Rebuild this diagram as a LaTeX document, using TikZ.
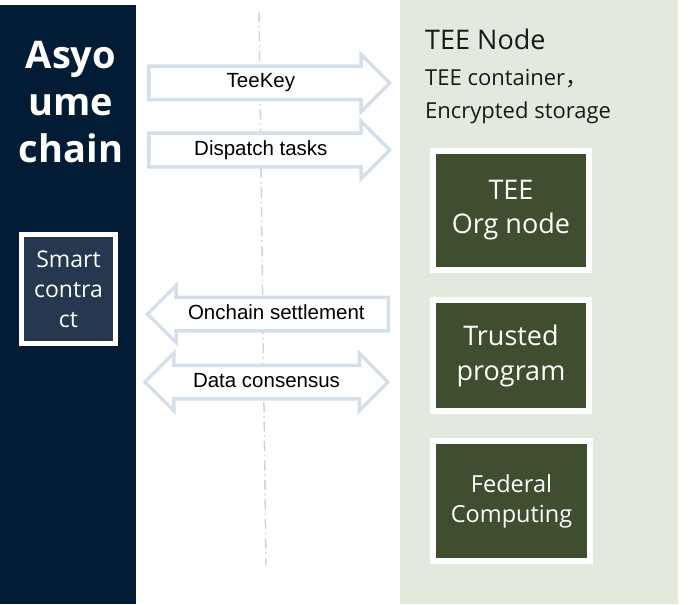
\documentclass[tikz,border=0pt]{standalone}
\usepackage{fontspec}
\setmainfont{Open Sans}
\newfontfamily\arialfont{Liberation Sans}
\newfontfamily\cjkfont{Noto Sans CJK SC}
\usetikzlibrary{shapes.arrows, shadows}
\definecolor{chainblue}{RGB}{2,28,53}
\definecolor{teebg}{RGB}{227,233,220}
\definecolor{teegreen}{RGB}{63,78,46}
\definecolor{contractblue}{RGB}{37,56,80}
\definecolor{flowline}{RGB}{212,223,234}
\definecolor{axisline}{RGB}{200,212,226}
\tikzset{x=1pt, y=-1pt,
flow/.style={draw=flowline, line width=3.5pt, fill=white, text=black,
  font=\arialfont\fontsize{20.5}{24}\selectfont, text height=14pt, text depth=4pt,
  inner ysep=6pt, inner xsep=0pt, minimum height=241pt},
rightflow/.style={flow, single arrow, single arrow head extend=12pt, anchor=tail},
leftflow/.style={flow, single arrow, single arrow head extend=12pt, shape border rotate=180, anchor=tip},
bothflow/.style={flow, double arrow, double arrow head extend=12pt, minimum height=243pt},
teebox/.style={draw=white, line width=6pt, fill=teegreen, text=white, align=center,
  minimum width=156pt, drop shadow={shadow xshift=1.5pt, shadow yshift=-2pt, opacity=.35}},
%every node/.style={inner sep=0pt},
}

\begin{document}
\begin{tikzpicture}
\useasboundingbox (0,0) rectangle (692,604);
\fill[chainblue] (0,5) rectangle (136,604);
\fill[teebg] (400,0) rectangle (678,604);
\draw[axisline, line width=1.5pt, dash pattern=on 10pt off 4pt on 1.5pt off 4pt] (259,12) -- (266,565);
% chain side
\node[text=white, align=center, font=\bfseries\fontsize{38}{47}\selectfont] (chain) at (71,102) {Asyo\\ume\\chain};
\node[draw=white, line width=5pt, fill=contractblue, text=white, align=center, minimum width=94pt,
  minimum height=109pt, font=\fontsize{23}{30}\selectfont] (contract) at (68.5,289) {Smart\\contra\\ct};
% TEE side
\node[anchor=base west, inner sep=0pt, text=black!90, font=\fontsize{27}{32}\selectfont] (teetitle) at (425,50) {TEE Node};
\node[anchor=base west, inner sep=0pt, text=black!90, font=\fontsize{22}{26}\selectfont] (teeinfo) at (425,86) {TEE container{\cjkfont ，}};
\node[anchor=base west, inner sep=0pt, text=black!90, font=\fontsize{22}{26}\selectfont] (teestore) at (425,119) {Encrypted storage};
\node[teebox, minimum height=119pt, font=\fontsize{27}{34}\selectfont] (orgnode) at (511,210.5) {TEE\\Org node};
\node[teebox, minimum height=111pt, font=\fontsize{27}{35}\selectfont] (trusted) at (511,355.5) {Trusted\\program};
\node[teebox, minimum height=120pt, minimum width=157pt, font=\fontsize{23.5}{30}\selectfont] (federal) at (511.5,501) {Federal\\Computing};
% flows
\node[rightflow] (teekey) at (147,83) {TeeKey};
\node[rightflow] (dispatch) at (147,150) {Dispatch tasks};
\node[leftflow] (settle) at (145,314) {Onchain settlement};
\node[bothflow] (consensus) at (266.5,382) {Data consensus};
\end{tikzpicture}
\end{document}
